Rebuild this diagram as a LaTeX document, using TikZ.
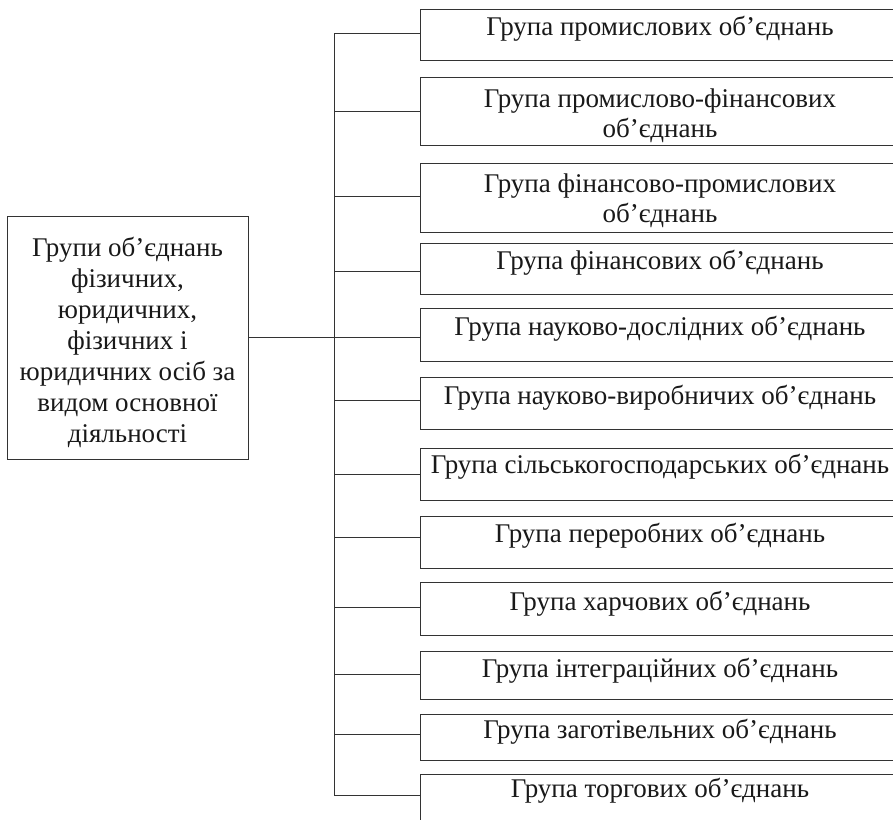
\documentclass[tikz,border=0pt]{standalone}
\usepackage{fontspec}
\setmainfont{Liberation Serif}
\tikzset{
  box/.style={draw=black!80, line width=1pt, rectangle, inner sep=0pt},
  lbl/.style={font=\fontsize{27}{30}\selectfont, align=center, inner sep=0pt, text=black!90},
  link/.style={draw=black!80, line width=1pt},
}
\begin{document}
\begin{tikzpicture}[x=1pt,y=-1pt]
\clip (0,0) rectangle (893,819);
\fill[white] (0,0) rectangle (893,819);
% root box
\node[box, minimum width=241pt, minimum height=243pt] (root) at (127.5,337.5) {};
\node[lbl, font=\fontsize{27}{31}\selectfont] (roott) at (127.5,342) {Групи об’єднань\\фізичних,\\юридичних,\\фізичних і\\юридичних осіб за\\видом основної\\діяльності};
% trunk coordinates
\coordinate (tt) at (334,33);
\coordinate (tb) at (334,795.3);
\coordinate (tm) at (334,337.3);
% right boxes
\node[box, minimum width=480pt, minimum height=51pt] (b1) at (660,34.8) {};
\node[box, minimum width=480pt, minimum height=68pt] (b2) at (660,111.7) {};
\node[box, minimum width=480pt, minimum height=69.4pt] (b3) at (660,198) {};
\node[box, minimum width=480pt, minimum height=50.7pt] (b4) at (660,268.7) {};
\node[box, minimum width=480pt, minimum height=52.3pt] (b5) at (660,334.9) {};
\node[box, minimum width=480pt, minimum height=51.7pt] (b6) at (660,403.2) {};
\node[box, minimum width=480pt, minimum height=51.7pt] (b7) at (660,474.2) {};
\node[box, minimum width=480pt, minimum height=51.6pt] (b8) at (660,542.5) {};
\node[box, minimum width=480pt, minimum height=52.6pt] (b9) at (660,609) {};
\node[box, minimum width=480pt, minimum height=48.4pt] (b10) at (660,675.5) {};
\node[box, minimum width=480pt, minimum height=46.7pt] (b11) at (660,737.4) {};
\node[box, minimum width=480pt, minimum height=66pt] (b12) at (660,807) {};
% labels
\node[lbl] (t1) at (660,29) {Група промислових об’єднань};
\node[lbl] (t2) at (660,116) {Група промислово-фінансових\\об’єднань};
\node[lbl] (t3) at (660,201) {Група фінансово-промислових\\об’єднань};
\node[lbl] (t4) at (660,263) {Група фінансових об’єднань};
\node[lbl] (t5) at (660,329) {Група науково-дослідних об’єднань};
\node[lbl] (t6) at (660,398) {Група науково-виробничих об’єднань};
\node[lbl] (t7) at (660,467) {Група сільськогосподарських об’єднань};
\node[lbl] (t8) at (660,536) {Група переробних об’єднань};
\node[lbl] (t9) at (660,604) {Група харчових об’єднань};
\node[lbl] (t10) at (660,671) {Група інтеграційних об’єднань};
\node[lbl] (t11) at (660,732) {Група заготівельних об’єднань};
\node[lbl] (t12) at (660,791) {Група торгових об’єднань};
% connectors
\draw[link] (tt) -- (tb);
\draw[link] (root.east |- tm) -- (tm);
\draw[link] (tt) -- (tt -| b1.west);
\foreach \i/\y in {2/111.7,3/196,4/271.7,5/337.3,6/400.3,7/474.3,8/537,9/607,10/674,11/734}{
  \draw[link] (334,\y) -- (b\i.west |- 334,\y);
}
\draw[link] (tb) -- (tb -| b12.west);
\end{tikzpicture}
\end{document}
